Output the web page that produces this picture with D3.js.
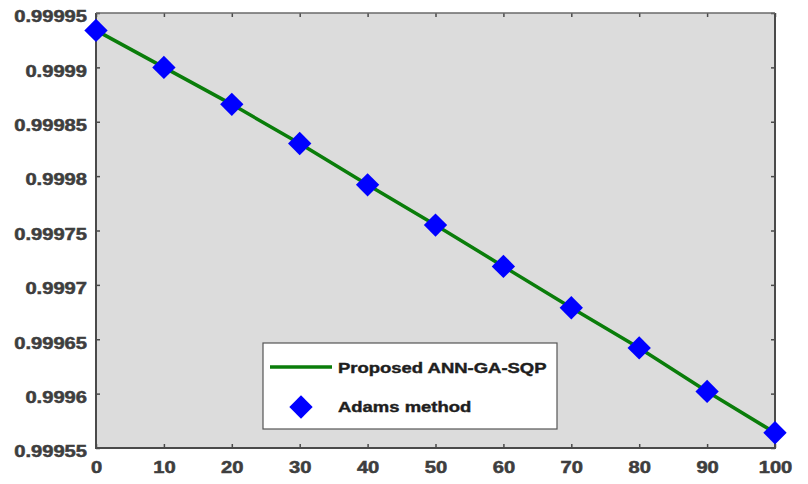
<!DOCTYPE html>
<html>
<head>
<meta charset="utf-8">
<script src="https://cdn.jsdelivr.net/npm/d3@7"></script>
<style>
  html, body { margin: 0; padding: 0; background: #ffffff; }
  svg { display: block; }
  text { font-family: "Liberation Sans", Arial, sans-serif; font-weight: bold; }
</style>
</head>
<body>
<svg id="chart" width="808" height="484"></svg>
<script>
// x positions of the solution samples
const xValues = [0, 10, 20, 30, 40, 50, 60, 70, 80, 90, 100];
// Proposed ANN-GA-SQP solution
const annValues = [0.999934, 0.999900, 0.999866, 0.999830, 0.999792, 0.999755, 0.999717, 0.999679, 0.999642, 0.999602, 0.999564];
// Adams method reference solution
const adamsValues = [0.999934, 0.999900, 0.999866, 0.999830, 0.999792, 0.999755, 0.999717, 0.999679, 0.999642, 0.999602, 0.999564];
// axis tick labels
const xTickLabels = ["0", "10", "20", "30", "40", "50", "60", "70", "80", "90", "100"];
const yTickLabels = ["0.99955", "0.9996", "0.99965", "0.9997", "0.99975", "0.9998", "0.99985", "0.9999", "0.99995"];
const seriesNames = ["Proposed ANN-GA-SQP", "Adams method"];

const svg = d3.select("#chart");
const margin = { left: 96, top: 13, right: 33, bottom: 36 };
const W = 808, H = 484;
const pw = W - margin.left - margin.right;
const ph = H - margin.top - margin.bottom;
const sx = 1.26; // horizontal stretch of all lettering
const textColor = "#3e3e3e";

const x = d3.scaleLinear().domain([0, 100]).range([0, pw]);
const y = d3.scaleLinear().domain([0.99955, 0.99995]).range([ph, 0]);

const g = svg.append("g").attr("transform", `translate(${margin.left},${margin.top})`);

// plot background
g.append("rect").attr("x", 0).attr("y", 0).attr("width", pw).attr("height", ph).attr("fill", "#dcdcdc");

const xTicks = xTickLabels.map(Number);
const yTicks = yTickLabels.map(Number);

function styleAxis(sel) {
  sel.select(".domain").remove();
  sel.selectAll(".tick line").attr("stroke", "#4a4a4a").attr("stroke-width", 1.5);
}
function styleLabels(sel) {
  sel.style("font-size", "16px")
    .attr("fill", textColor)
    .attr("stroke", textColor).attr("stroke-width", 0.5);
}

// bottom axis (ticks pointing inward)
const xAxis = g.append("g").attr("transform", `translate(0,${ph})`)
  .call(d3.axisBottom(x).tickValues(xTicks).tickSize(-4).tickPadding(0).tickFormat((d, i) => xTickLabels[i]));
styleAxis(xAxis);
xAxis.selectAll(".tick text")
  .attr("y", 25).attr("dy", 0)
  .attr("transform", `scale(${sx},1)`)
  .call(styleLabels);

// top axis, ticks only
const xAxisTop = g.append("g")
  .call(d3.axisTop(x).tickValues(xTicks).tickSize(-4).tickFormat(""));
styleAxis(xAxisTop);

// left axis
const yAxis = g.append("g")
  .call(d3.axisLeft(y).tickValues(yTicks).tickSize(-4).tickPadding(0).tickFormat((d, i) => yTickLabels[i]));
styleAxis(yAxis);
yAxis.selectAll(".tick text")
  .attr("x", -9 / sx).attr("dy", "0.55em")
  .attr("transform", `scale(${sx},1)`)
  .call(styleLabels);

// right axis, ticks only
const yAxisRight = g.append("g").attr("transform", `translate(${pw},0)`)
  .call(d3.axisRight(y).tickValues(yTicks).tickSize(-4).tickFormat(""));
styleAxis(yAxisRight);

// frame
g.append("path")
  .attr("d", `M0,0V${ph}H${pw}V0`)
  .attr("fill", "none").attr("stroke", "#4a4a4a").attr("stroke-width", 2);
g.append("line").attr("x1", 0).attr("x2", pw).attr("y1", 0).attr("y2", 0)
  .attr("stroke", "#6a6a6a").attr("stroke-width", 1.5);

// solution curve
const line = d3.line().x((d, i) => x(xValues[i])).y(d => y(d));
g.append("path").datum(annValues)
  .attr("d", line)
  .attr("fill", "none").attr("stroke", "#0a7d0a").attr("stroke-width", 3.5);

// diamond markers
const diamond = d3.symbol().type(d3.symbolSquare).size(16.5 * 16.5);
g.selectAll(".marker").data(adamsValues).enter().append("path")
  .attr("class", "marker")
  .attr("d", diamond)
  .attr("transform", (d, i) => `translate(${x(xValues[i])},${y(d)}) rotate(45)`)
  .attr("fill", "#0000ff");

// legend
const lg = svg.append("g").attr("transform", "translate(263,343)");
lg.append("rect").attr("x", 0).attr("y", 0).attr("width", 294).attr("height", 86)
  .attr("fill", "#ffffff").attr("stroke", "#555555").attr("stroke-width", 1.2);
lg.append("line").attr("x1", 7).attr("x2", 69).attr("y1", 24).attr("y2", 24)
  .attr("stroke", "#0a7d0a").attr("stroke-width", 3.5);
lg.append("text").attr("transform", `translate(75,30) scale(1.32,1)`)
  .style("font-size", "14px").text(seriesNames[0])
  .attr("fill", "#1e1e1e").attr("stroke", "#1e1e1e").attr("stroke-width", 0.4);
lg.append("path").attr("d", diamond)
  .attr("transform", "translate(38,64) rotate(45)").attr("fill", "#0000ff");
lg.append("text").attr("transform", `translate(75,69) scale(1.32,1)`)
  .style("font-size", "14px").text(seriesNames[1])
  .attr("fill", "#1e1e1e").attr("stroke", "#1e1e1e").attr("stroke-width", 0.4);
</script>
</body>
</html>
